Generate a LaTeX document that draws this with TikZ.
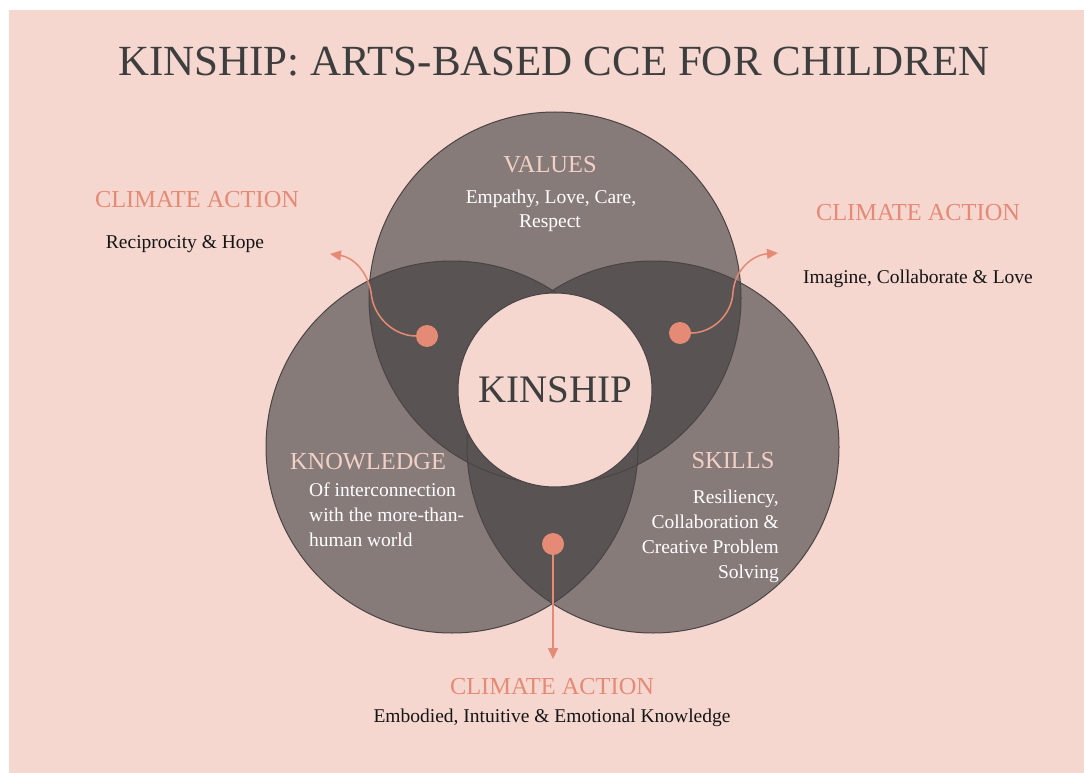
\documentclass[tikz,border=0pt]{standalone}
\usepackage{fontspec}
\setmainfont{Liberation Serif}
\usetikzlibrary{arrows.meta}

\definecolor{bgpink}{HTML}{F5D7D0}
\definecolor{ringfill}{HTML}{877B7A}
\definecolor{overlap}{HTML}{5A5353}
\definecolor{ringline}{HTML}{4A4444}
\definecolor{salmon}{HTML}{E58A75}
\definecolor{headpink}{HTML}{F2D0C6}
\definecolor{inkgray}{HTML}{3E3E3E}
\definecolor{bodyink}{HTML}{151515}

\newcommand{\fsz}[2]{\fontsize{#1}{#2}\selectfont}

\tikzset{
  ring/.style={draw=ringline, line width=1pt},
  heading/.style={inner sep=0pt, anchor=base, text=headpink, font=\fsz{24.4}{30}},
  actionhead/.style={inner sep=0pt, anchor=base, text=salmon, font=\fsz{24.4}{30}},
  ringtext/.style={inner sep=0pt, text=white, font=\fsz{19.5}{24.8}},
  outtext/.style={inner sep=0pt, anchor=base, text=bodyink, font=\fsz{19.5}{24.8}},
  dot/.style={circle, fill=salmon, minimum size=22pt, inner sep=0pt},
  flow/.style={draw=salmon, line width=1.5pt, -{Triangle[length=11pt,width=10pt]}},
}

\begin{document}
\begin{tikzpicture}[x=1pt,y=-1pt]
\useasboundingbox (0,0) rectangle (1084,773);
\fill[white] (0,0) rectangle (1084,773);
\fill[bgpink] (9,10) rectangle (1084,773);

% circle centres
\coordinate (cV) at (555,298);
\coordinate (cK) at (452,447);
\coordinate (cS) at (653,447);
\def\Rr{186pt}

% the three rings
\fill[ringfill] (cV) circle[radius=\Rr];
\fill[ringfill] (cK) circle[radius=\Rr];
\fill[ringfill] (cS) circle[radius=\Rr];

% overlaps
\begin{scope}
  \clip (cV) circle[radius=\Rr];
  \fill[overlap] (cK) circle[radius=\Rr];
  \fill[overlap] (cS) circle[radius=\Rr];
\end{scope}
\begin{scope}
  \clip (cK) circle[radius=\Rr];
  \fill[overlap] (cS) circle[radius=\Rr];
\end{scope}

\draw[ring] (cV) circle[radius=\Rr];
\draw[ring] (cK) circle[radius=\Rr];
\draw[ring] (cS) circle[radius=\Rr];

% centre
\node[circle, draw=ringline, line width=1pt, fill=bgpink, minimum size=194pt,
      inner sep=0pt, text=inkgray, font=\fsz{39}{46}] (kin) at (555,390) {KINSHIP};

% title
\node[inner sep=0pt, anchor=base, text=inkgray, font=\fsz{43}{50}] (title) at (554,76)
  {KINSHIP: ARTS-BASED CCE FOR CHILDREN};

% ring labels
\node[heading] (values) at (550,172) {VALUES};
\node[ringtext, anchor=base] (valtxt1) at (551,203) {Empathy, Love, Care,};
\node[ringtext, anchor=base] (valtxt2) at (550,227) {Respect};

\node[heading] (know) at (368,469) {KNOWLEDGE};
\node[ringtext, anchor=north west, align=left] (knowtxt) at (309,483)
  {Of interconnection\\with the more-than-\\human world};

\node[heading] (skills) at (733,468) {SKILLS};
\node[ringtext, anchor=north east, align=right] (skilltxt) at (779,490)
  {Resiliency,\\Collaboration \&\\Creative Problem\\Solving};

% climate action labels
\node[actionhead] (caL) at (197,207) {CLIMATE ACTION};
\node[outtext] (caLtxt) at (185,248) {Reciprocity \& Hope};
\node[actionhead] (caR) at (918,220) {CLIMATE ACTION};
\node[outtext] (caRtxt) at (918,283) {Imagine, Collaborate \& Love};
\node[actionhead] (caB) at (552,694) {CLIMATE ACTION};
\node[outtext] (caBtxt) at (552,722) {Embodied, Intuitive \& Emotional Knowledge};

% dots and arrows
\node[dot] (dotL) at (427,336) {};
\node[dot] (dotR) at (680,333) {};
\node[dot] (dotB) at (553,544) {};
\coordinate (tipL) at (330,254);
\coordinate (tipR) at (778,253);
\coordinate (tipB) at (553,659);

\draw[flow] (dotL.west) .. controls (395,336) and (373,318) .. (371,292)
  .. controls (367,270) and (352,257) .. (tipL);
\draw[flow] (dotR.east) .. controls (712,333) and (732,315) .. (733,292)
  .. controls (735,270) and (752,255) .. (tipR);
\draw[flow] (dotB.south) -- (tipB);
\end{tikzpicture}
\end{document}
